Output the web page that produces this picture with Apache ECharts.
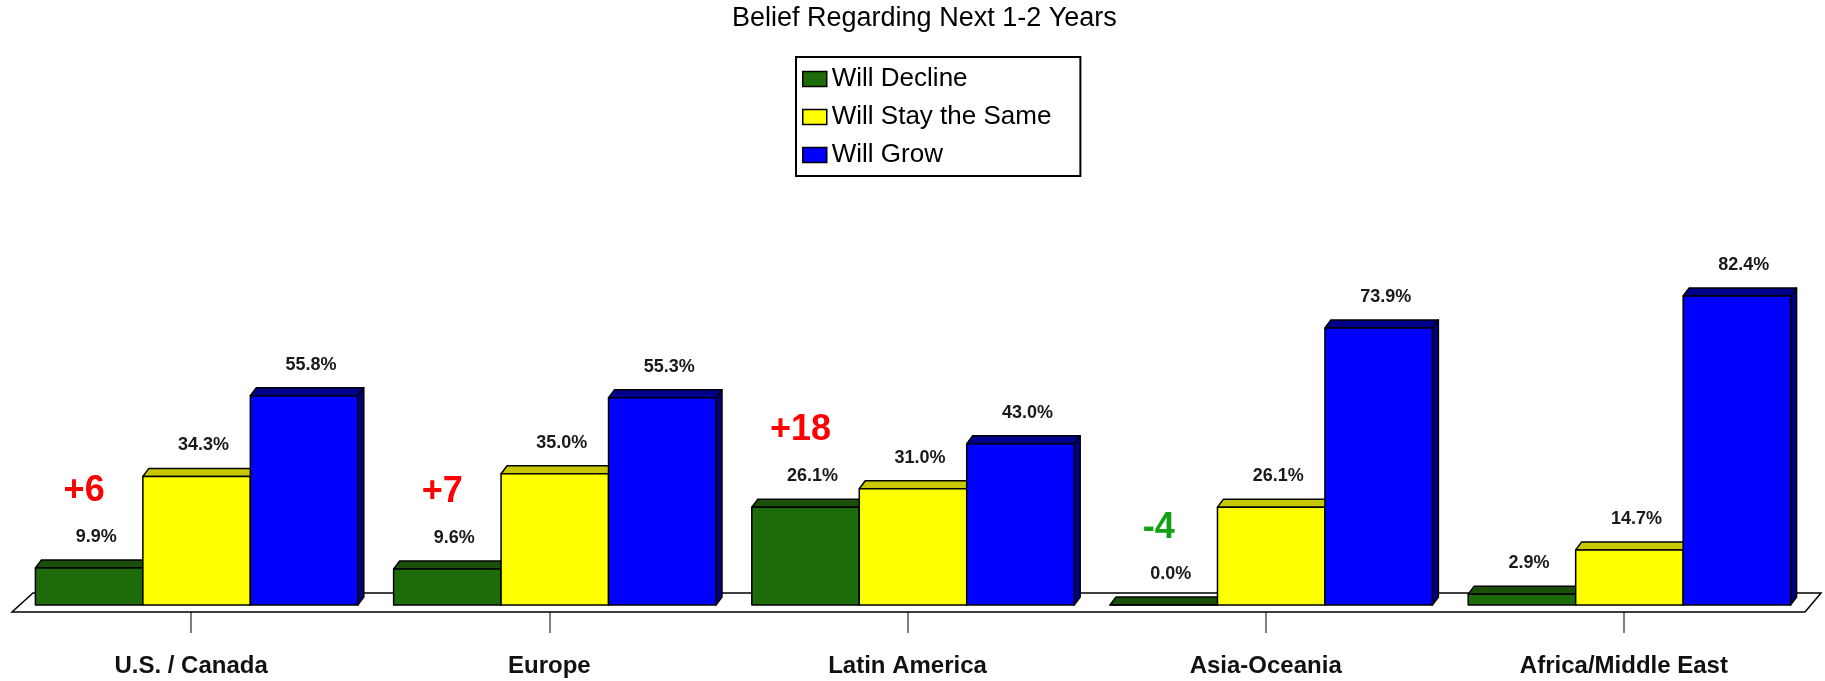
<!DOCTYPE html>
<html>
<head>
<meta charset="utf-8">
<script src="https://cdn.jsdelivr.net/npm/echarts@6/dist/echarts.min.js"></script>
<style>
  html, body { margin: 0; padding: 0; background: #fff; }
  #chart { width: 1825px; height: 681px; }
</style>
</head>
<body>
<div id="chart"></div>
<script>
// 数据
const categories = ['U.S. / Canada', 'Europe', 'Latin America', 'Asia-Oceania', 'Africa/Middle East'];
const willDecline = [9.9, 9.6, 26.1, 0.0, 2.9];
const willStay = [34.3, 35.0, 31.0, 26.1, 14.7];
const willGrow = [55.8, 55.3, 43.0, 73.9, 82.4];
const declineChange = ['+6', '+7', '+18', '-4', ''];

const FONT = '"Liberation Sans", Arial, sans-serif';
const BAR_RATIO = 0.3;   // bar width / category band
const SHIFT = 5.5;       // group is a bit right of the tick
const DX = 6, DY = 8;    // 3d depth

const palette = [
  { front: '#1e6b0a', top: '#1a500a', side: '#154207' },
  { front: '#ffff00', top: '#c8c800', side: '#a8a800' },
  { front: '#0000ff', top: '#00008c', side: '#000080' }
];

function barSeries(name, values, idx) {
  const c = palette[idx];
  return {
    type: 'custom',
    name: name,
    z: 3 + idx,
    itemStyle: { color: c.front, borderColor: '#000', borderWidth: 1.5 },
    data: values.map((v, i) => [i, v]),
    renderItem(params, api) {
      const i = api.value(0), v = api.value(1);
      const base = api.coord([i, 0]);
      const top = api.coord([i, v]);
      const bw = api.size([1, 0])[0];
      const w = bw * BAR_RATIO;
      const x0 = base[0] + SHIFT + (idx - 1.5) * w;
      const yb = base[1], yt = top[1];
      const stroke = { stroke: '#000', lineWidth: 1.5, lineJoin: 'round' };
      const kids = [
        { type: 'polygon', shape: { points: [[x0 + w, yt], [x0 + w + DX, yt - DY], [x0 + w + DX, yb - DY], [x0 + w, yb]] },
          style: Object.assign({ fill: c.side }, stroke) },
        { type: 'polygon', shape: { points: [[x0, yt], [x0 + w, yt], [x0 + w + DX, yt - DY], [x0 + DX, yt - DY]] },
          style: Object.assign({ fill: c.top }, stroke) },
        { type: 'rect', shape: { x: x0, y: yt, width: w, height: yb - yt },
          style: Object.assign({ fill: c.front }, stroke) },
        { type: 'text', style: { text: v.toFixed(1) + '%', x: x0 + w / 2 + 7, y: yt - 31,
          align: 'center', verticalAlign: 'middle', font: 'bold 18px ' + FONT, fill: '#1a1a1a' } }
      ];
      if (idx === 0 && declineChange[i]) {
        const s = declineChange[i];
        kids.push({ type: 'text', style: { text: s, x: x0 + w / 2 - 5, y: yt - 77,
          align: 'center', verticalAlign: 'middle', font: 'bold 36px ' + FONT,
          fill: s.charAt(0) === '-' ? '#14a014' : '#ff0000' } });
      }
      return { type: 'group', children: kids };
    }
  };
}

const floorSeries = {
  type: 'custom',
  name: 'floor',
  z: 1,
  silent: true,
  data: [[0, 0]],
  renderItem(params, api) {
    const bw = api.size([1, 0])[0];
    const a = api.coord([0, 0]);
    const b = api.coord([categories.length - 1, 0]);
    const left = a[0] - bw / 2, right = b[0] + bw / 2, y0 = a[1];
    return {
      type: 'polygon',
      shape: { points: [[left, y0 + 7], [right + 2, y0 + 7], [right + 18, y0 - 12], [left + 21, y0 - 12]] },
      style: { fill: '#fff', stroke: '#000', lineWidth: 1.5 }
    };
  }
};

const chart = echarts.init(document.getElementById('chart'));
chart.setOption({
  animation: false,
  backgroundColor: '#fff',
  title: {
    text: 'Belief Regarding Next 1-2 Years',
    left: 732, top: 5, padding: 0,
    textStyle: { fontFamily: FONT, fontWeight: 'normal', fontSize: 27, color: '#000' }
  },
  legend: {
    orient: 'vertical',
    left: 796, top: 57,
    padding: [9, 29, 8, 6],
    itemGap: 12, itemWidth: 24, itemHeight: 15,
    borderColor: '#000', borderWidth: 2,
    textStyle: { fontFamily: FONT, fontSize: 26, color: '#000' },
    data: [
      { name: 'Will Decline', icon: 'rect', itemStyle: { color: palette[0].front, borderColor: '#000', borderWidth: 1.5 } },
      { name: 'Will Stay the Same', icon: 'rect', itemStyle: { color: palette[1].front, borderColor: '#000', borderWidth: 1.5 } },
      { name: 'Will Grow', icon: 'rect', itemStyle: { color: palette[2].front, borderColor: '#000', borderWidth: 1.5 } }
    ]
  },
  grid: { left: 12, right: 22, top: 230, bottom: 76 },
  xAxis: {
    type: 'category',
    data: categories,
    offset: 7,
    axisLine: { show: false },
    axisTick: { show: true, alignWithLabel: true, interval: 0, length: 28, lineStyle: { color: '#555', width: 1.5 } },
    axisLabel: { interval: 0, margin: 42, fontFamily: FONT, fontWeight: 'bold', fontSize: 24, color: '#111' }
  },
  yAxis: { type: 'value', min: 0, max: 100, show: false, splitLine: { show: false } },
  series: [
    floorSeries,
    barSeries('Will Decline', willDecline, 0),
    barSeries('Will Stay the Same', willStay, 1),
    barSeries('Will Grow', willGrow, 2)
  ]
});
</script>
</body>
</html>
